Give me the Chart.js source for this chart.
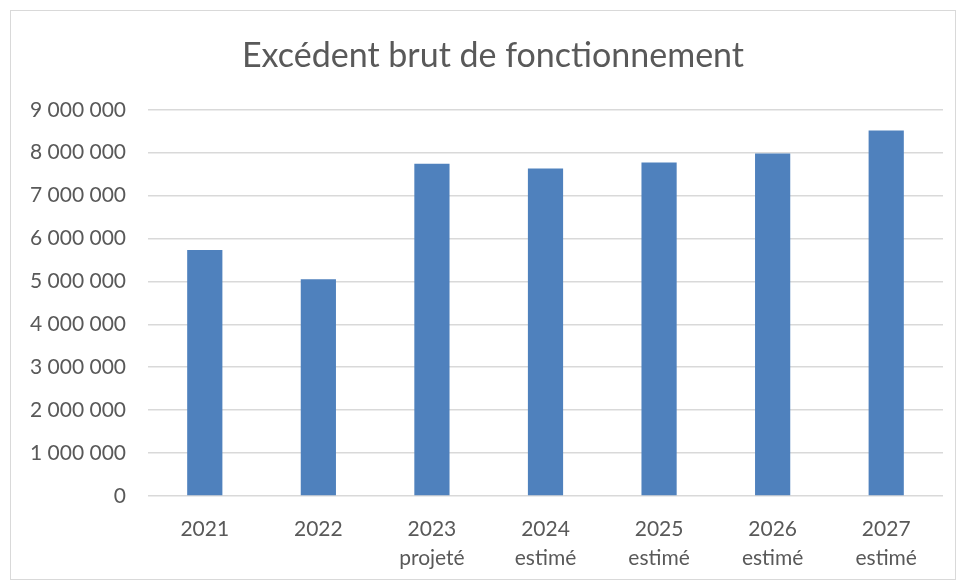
<!DOCTYPE html>
<html lang="fr">
<head>
<meta charset="utf-8">
<script src="https://cdn.jsdelivr.net/npm/chart.js@4.4.1/dist/chart.umd.min.js"></script>
<style>
  html, body { margin: 0; padding: 0; background: #fff; }
  #wrap { position: absolute; left: 0; top: 0; width: 956px; height: 582px; }
  #frame {
    position: absolute; left: 10px; top: 10px; width: 944px; height: 568px;
    border: 1px solid #d9d9d9; pointer-events: none;
  }
</style>
</head>
<body>
<div id="wrap"><canvas id="ebf"></canvas></div>
<div id="frame"></div>
<script>
  const years = [
    ["2021"], ["2022"], ["2023", "projeté"], ["2024", "estimé"],
    ["2025", "estimé"], ["2026", "estimé"], ["2027", "estimé"],
  ];
  const ebfValues = [5730000, 5050000, 7740000, 7630000, 7770000, 7980000, 8520000];
  const yTicks = [0, 1000000, 2000000, 3000000, 4000000, 5000000, 6000000, 7000000, 8000000, 9000000];

  const textGrey = "#595959";
  const gridGrey = "#d9d9d9";
  const fontFamily = "Lato, 'Open Sans', sans-serif";

  function fmtSpaces(v) {
    return String(Math.round(v)).replace(/\B(?=(\d{3})+(?!\d))/g, " ");
  }

  // Excel centres the title a bit right of the canvas middle: narrow its box
  const titleShift = {
    id: "titleShift",
    afterLayout(chart) {
      if (chart.titleBlock) {
        chart.titleBlock.left = 43;
        chart.titleBlock.width = chart.titleBlock.right - 43;
      }
    },
  };

  const ctx = document.getElementById("ebf").getContext("2d");
  new Chart(ctx, {
    type: "bar",
    data: {
      labels: years,
      datasets: [
        {
          label: "Excédent brut de fonctionnement",
          data: ebfValues,
          backgroundColor: "#4f81bd",
          barPercentage: 0.31,
          categoryPercentage: 1,
        },
      ],
    },
    options: {
      responsive: true,
      maintainAspectRatio: false,
      animation: false,
      layout: { padding: { left: 0, right: 13, top: 0, bottom: 0 } },
      plugins: {
        legend: { display: false },
        tooltip: { enabled: false },
        title: {
          display: true,
          text: "Excédent brut de fonctionnement",
          color: textGrey,
          padding: { top: 36, bottom: 33 },
          font: { family: fontFamily, size: 34, weight: "normal", lineHeight: 1.2 },
        },
      },
      scales: {
        x: {
          afterFit: (scale) => { scale.height = 86; },
          grid: { display: false, drawTicks: false },
          border: { display: false },
          ticks: {
            color: textGrey,
            padding: 19,
            maxRotation: 0,
            autoSkip: false,
            font: { family: fontFamily, size: 21, lineHeight: 1.38 },
          },
        },
        y: {
          min: 0,
          max: 9000000,
          afterFit: (scale) => { scale.width = 148; },
          afterBuildTicks: (scale) => { scale.ticks = yTicks.map((v) => ({ value: v })); },
          border: { display: false },
          grid: { color: gridGrey, lineWidth: 1.6, drawTicks: false },
          ticks: {
            color: textGrey,
            padding: 22,
            callback: (v) => fmtSpaces(v),
            font: { family: fontFamily, size: 21 },
          },
        },
      },
    },
    plugins: [titleShift],
  });
</script>
</body>
</html>
